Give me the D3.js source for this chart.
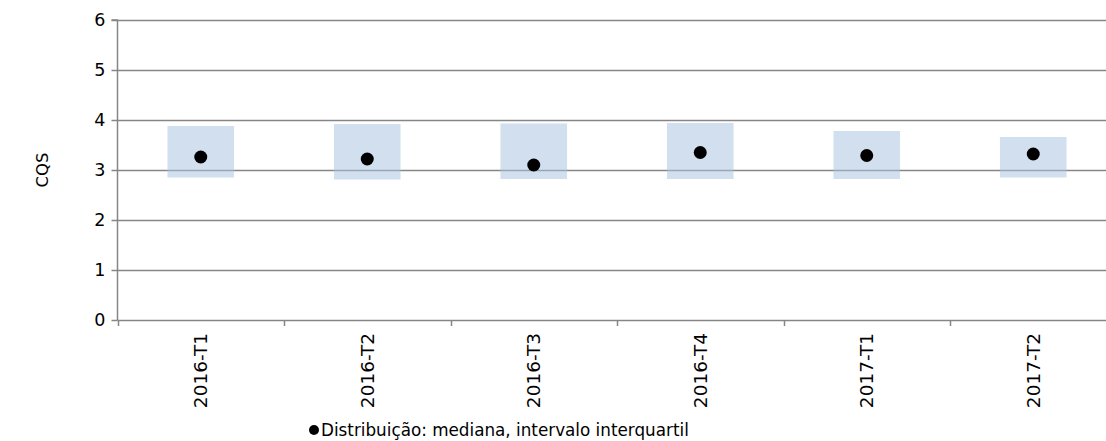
<!DOCTYPE html>
<html>
<head>
<meta charset="utf-8">
<script src="https://cdn.jsdelivr.net/npm/d3@7"></script>
<style>
  html, body { margin: 0; padding: 0; background: #fff; overflow: hidden; }
  svg { display: block; font-family: "DejaVu Sans", Verdana, sans-serif; }
</style>
</head>
<body>
<svg id="chart" width="1106" height="441"></svg>
<script>
const categories = ["2016-T1", "2016-T2", "2016-T3", "2016-T4", "2017-T1", "2017-T2"];
const q1Values     = [2.85, 2.81, 2.82, 2.82, 2.82, 2.85];
const q3Values     = [3.88, 3.92, 3.93, 3.94, 3.78, 3.66];
const medianValues = [3.26, 3.22, 3.10, 3.35, 3.29, 3.32];
const yTicks = [0, 1, 2, 3, 4, 5, 6];
const yLabel = "CQS";
const legendLabel = "Distribuição: mediana, intervalo interquartil";

const svg = d3.select("#chart");
const plotLeft = 117.5, plotRight = 1116.5, plotTop = 20, plotBottom = 320;

const x = d3.scaleBand().domain(categories).range([plotLeft, plotRight]).padding(0);
const y = d3.scaleLinear().domain([0, 6]).range([plotBottom, plotTop]);

const gridColor = "#868686";
const fontFam = "DejaVu Sans, Verdana, sans-serif";

// gridlines
svg.append("g").selectAll("line").data(yTicks.filter(d => d !== 0)).join("line")
  .attr("x1", plotLeft).attr("x2", 1106)
  .attr("y1", d => Math.round(y(d)) + 0.5).attr("y2", d => Math.round(y(d)) + 0.5)
  .attr("stroke", gridColor).attr("stroke-width", 1.5);

// IQR boxes
const boxW = x.bandwidth() * 0.4;
svg.append("g").selectAll("rect").data(categories).join("rect")
  .attr("x", d => x(d) + x.bandwidth() / 2 - boxW / 2)
  .attr("width", boxW)
  .attr("y", (d, i) => y(q3Values[i]))
  .attr("height", (d, i) => y(q1Values[i]) - y(q3Values[i]))
  .attr("fill", "#a8c1de").attr("fill-opacity", 0.52);

// y axis
const yAxis = d3.axisLeft(y).tickValues(yTicks).tickSize(6).tickPadding(6).tickFormat(d3.format("d"));
const gy = svg.append("g").attr("transform", `translate(${plotLeft},0)`).call(yAxis);
gy.select(".domain").attr("stroke", gridColor).attr("stroke-width", 1.5).attr("d", `M-6,${plotTop}H0V${plotBottom}`);
gy.selectAll(".tick line").attr("stroke", gridColor).attr("stroke-width", 1.5);
gy.selectAll(".tick text").attr("font-size", 17.5).attr("fill", "#000")
  .attr("font-family", fontFam);

// x axis
const xAxis = d3.axisBottom(x).tickSize(0).tickPadding(0);
const gx = svg.append("g").attr("transform", `translate(0,${plotBottom})`).call(xAxis);
gx.select(".domain").attr("stroke", gridColor).attr("stroke-width", 1.5).attr("d", `M${plotLeft},0.5H1106`);
gx.selectAll(".tick text")
  .attr("font-size", 18.5).attr("fill", "#000")
  .attr("font-family", fontFam)
  .attr("text-anchor", "end")
  .attr("transform", "rotate(-90)")
  .attr("x", -13).attr("y", 0).attr("dy", "0.36em");
// boundary ticks
svg.append("g").selectAll("line").data(categories).join("line")
  .attr("x1", d => Math.round(x(d)) + 0.5).attr("x2", d => Math.round(x(d)) + 0.5)
  .attr("y1", plotBottom).attr("y2", plotBottom + 6)
  .attr("stroke", gridColor).attr("stroke-width", 1.5);

// median dots
svg.append("g").selectAll("circle").data(categories).join("circle")
  .attr("cx", d => x(d) + x.bandwidth() / 2)
  .attr("cy", (d, i) => y(medianValues[i]))
  .attr("r", 6.5).attr("fill", "#000");

// y label
svg.append("text").attr("transform", `translate(48,${(plotTop + plotBottom) / 2}) rotate(-90)`)
  .attr("text-anchor", "middle").attr("font-size", 16.5).attr("font-family", fontFam).attr("fill", "#000").text(yLabel);

// legend
const lg = svg.append("g").attr("transform", "translate(314,430)");
lg.append("circle").attr("cx", 0).attr("cy", 0).attr("r", 5).attr("fill", "#000");
lg.append("text").attr("x", 7).attr("y", 0).attr("dy", "0.36em").attr("font-size", 16.8).attr("font-family", fontFam).attr("fill", "#000").text(legendLabel);
</script>
</body>
</html>
